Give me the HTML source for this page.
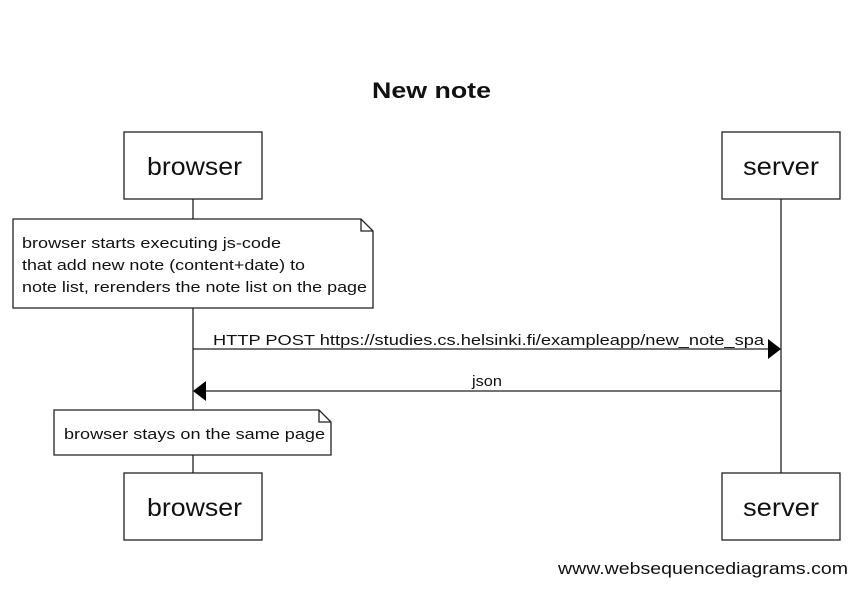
<!DOCTYPE html>
<html><head><meta charset="utf-8"><style>
body{margin:0;background:#fff}
svg{display:block}
text{font-family:"Liberation Sans",Arial,sans-serif;fill:#111}
</style></head><body>
<svg width="860" height="613" viewBox="0 0 860 613">
<text x="372" y="98" font-size="22" font-weight="bold" textLength="119" lengthAdjust="spacingAndGlyphs">New note</text>
<g stroke="#222" stroke-width="1.3" fill="#fff">
<line x1="193" y1="199" x2="193" y2="473"/>
<line x1="781" y1="199" x2="781" y2="473"/>
<rect x="124" y="132" width="138" height="67"/>
<rect x="722" y="132" width="118" height="67"/>
<rect x="124" y="473" width="138" height="67"/>
<rect x="722" y="473" width="118" height="67"/>
<path d="M13 219 H361 L373 231 V308 H13 Z"/>
<path d="M361 219 V231 H373" fill="none"/>
<path d="M54 410 H319 L331 422 V455 H54 Z"/>
<path d="M319 410 V422 H331" fill="none"/>
<line x1="193" y1="349" x2="770" y2="349"/>
<line x1="206" y1="391" x2="781" y2="391"/>
</g>
<path d="M768 339 L781 349 L768 359 Z" fill="#000"/>
<path d="M206 381 L193 391 L206 401 Z" fill="#000"/>
<g font-size="25" lengthAdjust="spacingAndGlyphs">
<text x="147" y="175" textLength="95" lengthAdjust="spacingAndGlyphs">browser</text>
<text x="743" y="175" textLength="76" lengthAdjust="spacingAndGlyphs">server</text>
<text x="147" y="516" textLength="95" lengthAdjust="spacingAndGlyphs">browser</text>
<text x="743" y="516" textLength="76" lengthAdjust="spacingAndGlyphs">server</text>
</g>
<g font-size="15">
<text x="22" y="248" textLength="259" lengthAdjust="spacingAndGlyphs">browser starts executing js-code</text>
<text x="22" y="270" textLength="283" lengthAdjust="spacingAndGlyphs">that add new note (content+date) to</text>
<text x="22" y="292" textLength="345" lengthAdjust="spacingAndGlyphs">note list, rerenders the note list on the page</text>
<text x="64" y="439" textLength="261" lengthAdjust="spacingAndGlyphs">browser stays on the same page</text>
<text x="213" y="345" textLength="551" lengthAdjust="spacingAndGlyphs">HTTP POST https://studies.cs.helsinki.fi/exampleapp/new_note_spa</text>
<text x="472" y="386" textLength="30" lengthAdjust="spacingAndGlyphs">json</text>
</g>
<text x="558" y="574" font-size="17" fill="#222" textLength="290" lengthAdjust="spacingAndGlyphs">www.websequencediagrams.com</text>
</svg>
</body></html>
